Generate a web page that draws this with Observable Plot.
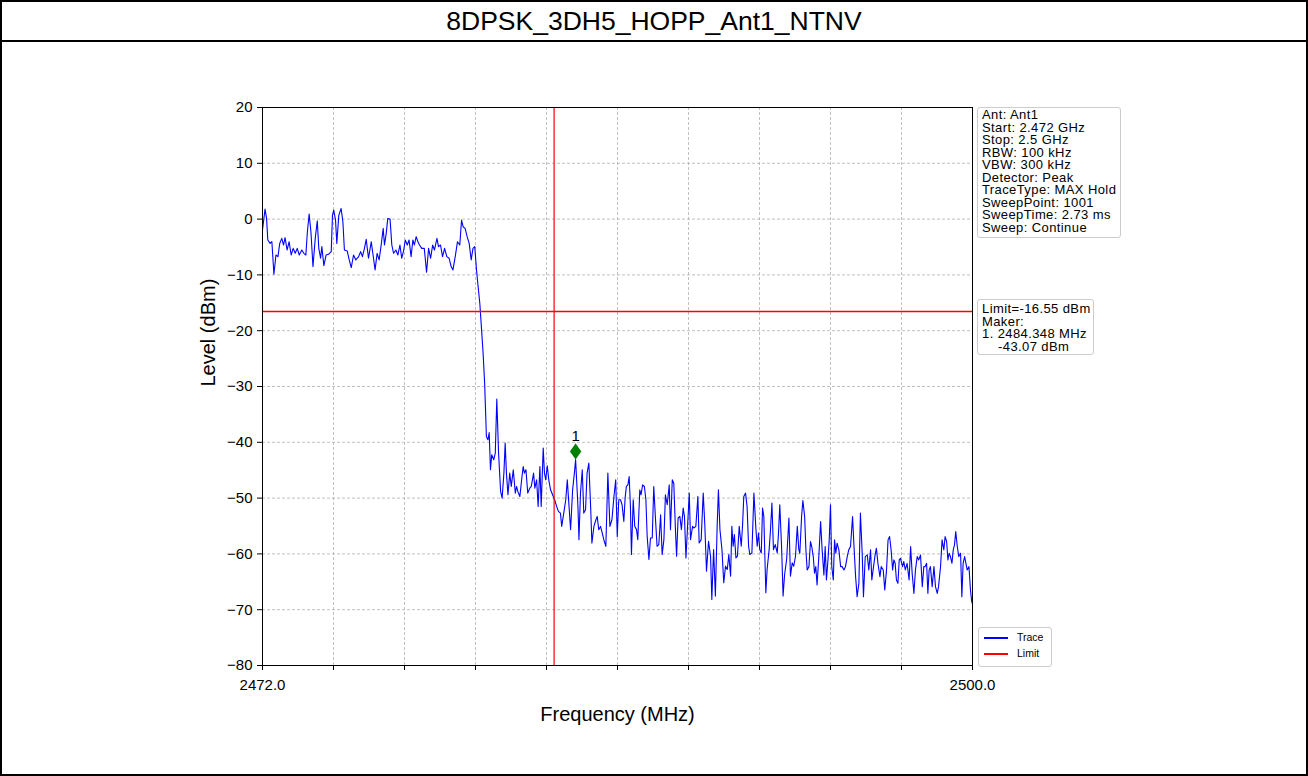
<!DOCTYPE html>
<html><head><meta charset="utf-8">
<script src="https://cdn.jsdelivr.net/npm/d3@7"></script>
<script src="https://cdn.jsdelivr.net/npm/@observablehq/plot@0.6"></script>
<style>
body{margin:0;background:#fff;font-family:"Liberation Sans",Arial,sans-serif;}
#page{position:relative;width:1308px;height:776px;overflow:hidden;background:#fff;}
#border{position:absolute;left:0;top:0;width:1308px;height:776px;box-sizing:border-box;border:2px solid #000;pointer-events:none;}
#title{position:absolute;left:0;top:0;width:1308px;height:42px;box-sizing:border-box;border-bottom:2px solid #000;text-align:center;font-size:26.5px;line-height:42px;color:#000;}
#chart{position:absolute;left:0;top:42px;}
.box{position:absolute;box-sizing:border-box;border:1px solid #cccccc;border-radius:3px;background:#fff;font-size:13px;line-height:12.5px;letter-spacing:0.4px;white-space:pre;color:#000;padding-left:4px;}
.leg{position:absolute;left:5px;width:24px;height:1.5px;}
.legt{position:absolute;left:38px;font-size:10.5px;line-height:10px;letter-spacing:0;}
</style></head>
<body>
<div id="page">
  <div id="title"></div>
  <div id="chart"></div>
  <div class="box" id="info1" style="left:977px;top:107px;width:144px;height:131px;padding-top:1px;"></div>
  <div class="box" id="info2" style="left:977px;top:299px;width:117px;height:56px;padding-top:3px;"></div>
  <div class="box" id="legend" style="left:978px;top:627px;width:74px;height:40px;"></div>
  <div id="border"></div>
</div>
<script>
const titleText = "8DPSK_3DH5_HOPP_Ant1_NTNV";
const xLabel = "Frequency (MHz)";
const yLabel = "Level (dBm)";
const xTicks = [2472, 2474.8, 2477.6, 2480.4, 2483.2, 2486, 2488.8, 2491.6, 2494.4, 2497.2, 2500];
const xTickLabels = ["2472.0", "", "", "", "", "", "", "", "", "", "2500.0"];
const yTicks = [20, 10, 0, -10, -20, -30, -40, -50, -60, -70, -80];
const limitLevel = -16.55;
const bandEdge = 2483.5;
const markers = [{label: "1", freq: 2484.348, level: -43.07}];
const infoLines = ["Ant: Ant1", "Start: 2.472 GHz", "Stop: 2.5 GHz", "RBW: 100 kHz", "VBW: 300 kHz", "Detector: Peak", "TraceType: MAX Hold", "SweepPoint: 1001", "SweepTime: 2.73 ms", "Sweep: Continue"];
const limitLines = ["Limit=-16.55 dBm", "Maker:", "1. 2484.348 MHz", "    -43.07 dBm"];
const legendItems = [{name: "Trace", color: "#0000ff"}, {name: "Limit", color: "#ff0000"}];

// [frequency MHz, level dBm]
const tracePoints = [
[2472.00,-1.96],[2472.10,1.79],[2472.16,0.12],[2472.21,-3.75],[2472.30,-4.35],[2472.37,-4.05],[2472.45,-9.88],[2472.53,-6.43],[2472.61,-6.73],[2472.68,-4.35],[2472.76,-3.45],[2472.83,-4.64],[2472.89,-3.33],[2472.97,-5.54],[2473.05,-4.05],[2473.13,-6.43],[2473.21,-5.24],[2473.29,-6.13],[2473.37,-5.24],[2473.45,-6.43],[2473.55,-5.54],[2473.63,-6.13],[2473.71,-6.43],[2473.77,-2.26],[2473.84,0.89],[2473.91,-2.26],[2473.99,-8.51],[2474.08,-3.45],[2474.16,-0.30],[2474.22,-5.24],[2474.29,-7.02],[2474.34,-4.94],[2474.42,-8.33],[2474.51,-6.43],[2474.60,-6.31],[2474.71,-5.83],[2474.76,0.71],[2474.81,1.61],[2474.88,-0.18],[2474.93,-4.35],[2475.01,0.71],[2475.10,1.90],[2475.17,-0.48],[2475.23,-5.54],[2475.34,-5.71],[2475.42,-7.32],[2475.50,-8.69],[2475.59,-6.43],[2475.68,-7.32],[2475.79,-6.73],[2475.87,-5.83],[2475.94,-6.73],[2476.02,-5.24],[2476.09,-3.63],[2476.18,-7.02],[2476.29,-4.05],[2476.36,-6.43],[2476.44,-9.11],[2476.52,-6.13],[2476.60,-7.32],[2476.68,-4.64],[2476.76,-1.67],[2476.81,-4.64],[2476.88,-2.56],[2476.94,0.12],[2477.03,0.00],[2477.10,-4.64],[2477.17,-6.13],[2477.26,-5.54],[2477.34,-6.43],[2477.42,-4.64],[2477.49,-7.02],[2477.57,-5.54],[2477.63,-3.75],[2477.71,-4.64],[2477.78,-3.75],[2477.86,-6.73],[2477.93,-3.75],[2477.99,-4.64],[2478.06,-3.15],[2478.13,-4.05],[2478.19,-4.64],[2478.28,-5.24],[2478.38,-5.24],[2478.47,-9.52],[2478.55,-5.24],[2478.63,-7.02],[2478.71,-4.64],[2478.78,-5.54],[2478.88,-3.45],[2478.94,-4.94],[2479.02,-4.64],[2479.10,-6.73],[2479.18,-5.24],[2479.27,-6.73],[2479.36,-7.02],[2479.44,-8.51],[2479.51,-9.11],[2479.60,-6.73],[2479.69,-4.05],[2479.78,-4.64],[2479.85,-0.18],[2479.91,-1.37],[2479.99,-1.67],[2480.07,-3.15],[2480.15,-4.35],[2480.23,-7.32],[2480.30,-5.24],[2480.37,-4.93],
[2480.44,-9.10],[2480.49,-11.49],[2480.57,-15.07],[2480.64,-19.85],[2480.70,-24.03],[2480.76,-29.40],[2480.80,-34.78],[2480.83,-38.96],[2480.89,-39.55],[2480.94,-38.24],[2480.99,-44.93],[2481.04,-42.24],[2481.12,-43.13],[2481.18,-41.94],[2481.24,-32.27],[2481.31,-41.94],[2481.39,-48.81],[2481.45,-50.00],[2481.52,-45.52],[2481.57,-40.15],[2481.62,-45.52],[2481.68,-49.40],[2481.75,-45.52],[2481.81,-47.91],[2481.89,-44.93],[2481.97,-49.10],[2482.02,-47.91],[2482.07,-48.81],[2482.15,-49.70],[2482.22,-46.72],[2482.28,-44.33],[2482.33,-45.52],[2482.39,-44.93],[2482.46,-49.10],[2482.54,-48.21],[2482.60,-47.91],[2482.69,-45.52],[2482.74,-48.21],[2482.81,-46.72],[2482.87,-51.49],[2482.94,-44.33],[2482.99,-51.49],[2483.07,-41.04],[2483.12,-45.52],[2483.17,-46.72],[2483.23,-44.21],[2483.29,-46.72],[2483.36,-48.51],[2483.44,-49.40],[2483.52,-50.30],[2483.60,-51.49],[2483.67,-52.39],[2483.75,-52.69],[2483.80,-55.07],[2483.88,-52.69],[2483.96,-50.30],[2484.02,-46.72],[2484.08,-50.90],[2484.15,-55.67],[2484.23,-48.51],[2484.30,-45.52],[2484.348,-43.07],[2484.44,-51.49],[2484.48,-57.46],[2484.54,-49.10],[2484.61,-44.93],[2484.67,-52.69],[2484.74,-52.09],[2484.80,-45.52],[2484.87,-43.73],[2484.94,-51.49],[2484.99,-58.06],[2485.07,-55.07],[2485.15,-53.88],[2485.20,-53.28],[2485.26,-55.67],[2485.33,-55.07],[2485.40,-56.27],[2485.46,-57.46],[2485.54,-58.66],[2485.62,-45.52],[2485.70,-55.07],[2485.78,-53.88],[2485.86,-49.70],[2485.93,-46.72],[2485.99,-56.87],[2486.05,-50.30],
[2486.12,-50.30],[2486.18,-51.19],[2486.25,-54.17],[2486.30,-50.00],[2486.35,-47.92],[2486.41,-47.62],[2486.46,-46.13],[2486.51,-51.49],[2486.55,-60.12],[2486.62,-50.30],[2486.68,-55.06],[2486.75,-55.65],[2486.80,-57.44],[2486.88,-48.51],[2486.93,-49.40],[2486.99,-47.62],[2487.06,-47.92],[2487.12,-50.30],[2487.17,-56.85],[2487.24,-61.01],[2487.30,-57.14],[2487.37,-57.14],[2487.43,-47.92],[2487.50,-53.87],[2487.56,-58.63],[2487.63,-58.33],[2487.70,-52.98],[2487.76,-60.12],[2487.83,-57.44],[2487.89,-49.40],[2487.96,-51.19],[2488.04,-47.62],[2488.09,-55.65],[2488.16,-46.73],[2488.22,-47.32],[2488.29,-56.25],[2488.33,-60.42],[2488.39,-53.57],[2488.46,-53.27],[2488.52,-55.65],[2488.59,-51.79],[2488.64,-53.27],[2488.70,-60.71],[2488.75,-56.25],[2488.83,-49.11],[2488.88,-57.44],[2488.96,-55.06],[2489.01,-55.36],[2489.09,-55.06],[2489.17,-49.70],[2489.22,-58.04],[2489.30,-57.44],[2489.38,-49.11],[2489.44,-54.46],[2489.51,-63.10],[2489.59,-57.74],[2489.67,-60.42],[2489.72,-68.15],[2489.79,-59.23],[2489.86,-67.56],[2489.93,-55.06],[2489.98,-48.51],[2490.04,-55.65],[2490.12,-59.23],[2490.19,-65.18],[2490.26,-62.20],[2490.33,-62.80],[2490.39,-60.12],[2490.46,-63.99],[2490.51,-55.06],[2490.56,-58.63],[2490.61,-56.55],[2490.67,-60.71],[2490.73,-60.42],[2490.80,-55.06],[2490.88,-58.63],[2490.93,-55.06],[2490.98,-49.70],[2491.05,-49.11],[2491.11,-51.49],[2491.17,-58.63],[2491.22,-60.12],[2491.30,-59.82],[2491.38,-49.11],[2491.46,-55.65],[2491.51,-58.63],[2491.56,-56.25],[2491.61,-59.23],[2491.67,-59.82],[2491.72,-51.79],[2491.77,-53.27],[2491.85,-66.96],[2491.90,-62.80],[2491.98,-59.23],[2492.03,-55.95],[2492.09,-50.89],[2492.15,-59.23],[2492.22,-58.33],[2492.30,-59.82],[2492.35,-56.25],[2492.40,-51.19],[2492.47,-58.63],[2492.53,-67.56],[2492.59,-63.69],[2492.67,-61.01],[2492.76,-53.57],[2492.82,-63.99],[2492.89,-61.61],[2492.95,-62.20],[2493.02,-60.42],[2493.09,-55.06],[2493.15,-59.23],
[2493.19,-59.88],[2493.26,-53.29],[2493.31,-50.42],[2493.38,-53.29],[2493.43,-59.28],[2493.48,-62.87],[2493.55,-62.28],[2493.61,-57.78],[2493.66,-58.68],[2493.72,-60.48],[2493.77,-63.47],[2493.82,-62.28],[2493.87,-65.57],[2493.94,-60.48],[2494.01,-54.19],[2494.07,-59.28],[2494.14,-63.77],[2494.19,-58.68],[2494.24,-64.67],[2494.30,-61.08],[2494.35,-57.49],[2494.40,-51.20],[2494.45,-62.28],[2494.51,-64.67],[2494.56,-57.49],[2494.61,-59.88],[2494.66,-58.08],[2494.73,-59.28],[2494.80,-62.28],[2494.86,-62.28],[2494.93,-62.87],[2494.99,-62.28],[2495.06,-60.48],[2495.12,-59.28],[2495.19,-58.68],[2495.27,-53.29],[2495.32,-58.08],[2495.39,-64.07],[2495.45,-67.66],[2495.52,-65.27],[2495.58,-52.69],[2495.65,-59.88],[2495.70,-67.66],[2495.77,-60.48],[2495.85,-60.18],[2495.91,-62.87],[2495.98,-59.28],[2496.03,-64.67],[2496.08,-62.87],[2496.15,-60.48],[2496.21,-58.98],[2496.27,-61.68],[2496.35,-64.07],[2496.40,-62.28],[2496.48,-62.87],[2496.54,-66.47],[2496.61,-62.87],[2496.67,-57.49],[2496.73,-56.89],[2496.79,-59.28],[2496.85,-62.87],[2496.90,-61.08],[2496.95,-61.68],[2497.00,-64.67],[2497.06,-65.27],[2497.11,-61.08],[2497.16,-60.78],[2497.24,-62.28],[2497.29,-61.38],[2497.35,-62.87],[2497.42,-61.68],[2497.50,-64.67],[2497.56,-58.68],[2497.62,-63.47],[2497.69,-67.07],[2497.75,-62.87],[2497.82,-60.48],[2497.88,-61.08],[2497.95,-60.18],[2498.02,-65.87],[2498.08,-62.28],[2498.13,-62.28],[2498.19,-61.68],[2498.24,-67.07],[2498.29,-62.87],[2498.34,-62.28],[2498.41,-65.87],[2498.48,-62.28],[2498.54,-65.87],[2498.61,-67.07],[2498.66,-65.87],[2498.74,-62.28],[2498.80,-57.49],[2498.87,-59.28],[2498.92,-56.89],[2498.98,-57.78],[2499.03,-61.08],[2499.08,-59.88],[2499.13,-60.48],[2499.19,-61.68],[2499.24,-59.28],[2499.29,-58.38],[2499.34,-55.99],[2499.40,-58.68],[2499.46,-60.48],[2499.53,-59.88],[2499.58,-67.66],[2499.63,-61.68],[2499.69,-60.48],[2499.74,-61.68],[2499.79,-62.87],[2499.86,-62.28],[2499.92,-66.47],[2499.97,-68.56],[2500.00,-69.00]
];

document.getElementById("title").textContent = titleText;
document.getElementById("info1").textContent = infoLines.join("\n");
document.getElementById("info2").textContent = limitLines.join("\n");
const leg = document.getElementById("legend");
legendItems.forEach((it, i) => {
  const l = document.createElement("div");
  l.className = "leg"; l.style.top = (9 + i * 16) + "px"; l.style.background = it.color;
  const t = document.createElement("div");
  t.className = "legt"; t.style.top = (4 + i * 16) + "px"; t.textContent = it.name;
  leg.appendChild(l); leg.appendChild(t);
});

const thinDiamond = {
  draw(ctx, size) {
    const s = Math.sqrt(size);
    const h = s * 0.85, w = s * 0.6;
    ctx.moveTo(0, -h); ctx.lineTo(w, 0); ctx.lineTo(0, h); ctx.lineTo(-w, 0); ctx.closePath();
  }
};

const chart = Plot.plot({
  width: 1308,
  height: 734,
  marginLeft: 262,
  marginRight: 336,
  marginTop: 65,
  marginBottom: 111,
  style: {fontFamily: "'Liberation Sans', Arial, sans-serif", background: "transparent", color: "#000"},
  x: {domain: [2472, 2500]},
  y: {domain: [-80, 20]},
  marks: [
    Plot.gridX(xTicks, {stroke: "#b0b0b0", strokeOpacity: 1, strokeDasharray: "3,2", strokeWidth: 0.8}),
    Plot.gridY(yTicks, {stroke: "#b0b0b0", strokeOpacity: 1, strokeDasharray: "3,2", strokeWidth: 0.8}),
    Plot.line(tracePoints, {x: d => d[0], y: d => d[1], stroke: "#0000ff", strokeWidth: 1.1}),
    Plot.ruleY([limitLevel], {stroke: "#ff0000", strokeWidth: 1.5}),
    Plot.ruleX([bandEdge], {stroke: "#ff0000", strokeWidth: 1.2}),
    Plot.dot(markers, {x: "freq", y: "level", symbol: thinDiamond, r: 4.5, fill: "#008000", stroke: "#008000", dy: -8}),
    Plot.text(markers, {x: "freq", y: "level", text: "label", dy: -23, fontSize: 15, fill: "#000"}),
    Plot.frame({stroke: "#000", strokeWidth: 1}),
    Plot.axisX(xTicks, {tickFormat: (d, i) => xTickLabels[i], tickSize: 5, tickPadding: 9, fontSize: 15, label: null}),
    Plot.axisY(yTicks, {tickSize: 5, tickPadding: 5, fontSize: 15, label: null}),
    Plot.text([xLabel], {frameAnchor: "bottom", dy: 55, fontSize: 20, fill: "#000"}),
    Plot.text([yLabel], {frameAnchor: "left", dx: -54, rotate: -90, fontSize: 20, fill: "#000"})
  ]
});
document.getElementById("chart").appendChild(chart);
</script>
</body></html>
